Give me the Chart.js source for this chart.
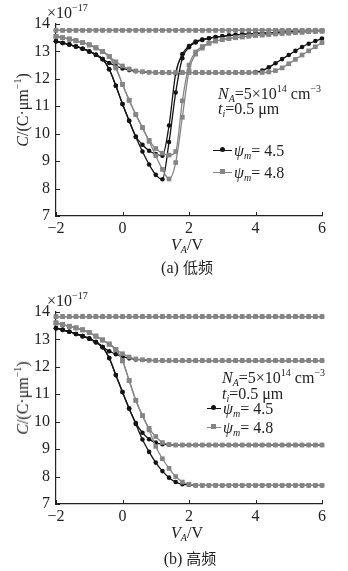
<!DOCTYPE html>
<html>
<head>
<meta charset="utf-8">
<script src="https://cdn.jsdelivr.net/npm/chart.js@4.4.1/dist/chart.umd.min.js"></script>
<style>
  body { margin:0; background:#fff; width:348px; height:571px; position:relative; overflow:hidden;
         font-family:"Liberation Serif", "Times New Roman", serif; color:#222; }
  canvas { position:absolute; left:0; }
  .txt { position:absolute; white-space:nowrap; font-size:16px; line-height:1; }
  .txt sup { font-size:10px; vertical-align:7px; line-height:0; }
  .txt sub { font-size:10px; vertical-align:-3px; line-height:0; }
  .c { transform:translate(-50%,-50%); }
  .rot { transform:translate(-50%,-50%) rotate(-90deg); }
  .cjk { font-family:"Noto Sans CJK SC", sans-serif; font-size:15px; }
  .key { position:absolute; height:0; border-top:1.3px solid; }
  .key span { position:absolute; left:50%; top:-3.6px; margin-left:-2.6px; width:5px; height:5px; }
</style>
</head>
<body>
<canvas id="lowChart" width="348" height="240" style="top:0"></canvas>
<canvas id="highChart" width="348" height="240" style="top:288px"></canvas>

<!-- (a) low frequency labels -->
<div class="txt" style="left:47px;top:5px">×10<sup>−17</sup></div>
<div class="txt rot" style="left:23px;top:110px"><i>C</i>/(C·μm<sup>−1</sup>)</div>
<div class="txt c" style="left:187px;top:245px"><i>V<sub>A</sub></i>/V</div>
<div class="txt c" style="left:187px;top:267px">(a) <span class="cjk">低频</span></div>
<div class="txt" style="left:218px;top:86px"><i>N<sub>A</sub></i>=5×10<sup>14</sup> cm<sup>−3</sup></div>
<div class="txt" style="left:218px;top:101px"><i>t<sub>i</sub></i>=0.5 μm</div>
<div class="key" style="left:213px;top:150px;width:19px;border-color:#141414"><span style="background:#141414;border-radius:50%"></span></div>
<div class="txt" style="left:234px;top:143px"><i>ψ<sub>m</sub></i>= 4.5</div>
<div class="key" style="left:213px;top:172px;width:19px;border-color:#858585"><span style="background:#858585"></span></div>
<div class="txt" style="left:234px;top:165px"><i>ψ<sub>m</sub></i>= 4.8</div>

<!-- (b) high frequency labels -->
<div class="txt" style="left:47px;top:293px">×10<sup>−17</sup></div>
<div class="txt rot" style="left:23px;top:398px"><i>C</i>/(C·μm<sup>−1</sup>)</div>
<div class="txt c" style="left:187px;top:533px"><i>V<sub>A</sub></i>/V</div>
<div class="txt c" style="left:190px;top:558px">(b) <span class="cjk">高频</span></div>
<div class="txt" style="left:222px;top:370px"><i>N<sub>A</sub></i>=5×10<sup>14</sup> cm<sup>−3</sup></div>
<div class="txt" style="left:222px;top:386px"><i>t<sub>i</sub></i>=0.5 μm</div>
<div class="key" style="left:207px;top:408px;width:14px;border-color:#141414"><span style="background:#141414;border-radius:50%"></span></div>
<div class="txt" style="left:223px;top:401px"><i>ψ<sub>m</sub></i>= 4.5</div>
<div class="key" style="left:207px;top:427px;width:14px;border-color:#858585"><span style="background:#858585"></span></div>
<div class="txt" style="left:223px;top:420px"><i>ψ<sub>m</sub></i>= 4.8</div>

<script>
// gate voltage V_A (V), one marker every 0.2 V
const voltage = [-2,-1.8,-1.6,-1.4,-1.2,-1,-0.8,-0.6,-0.4,-0.2,0,0.2,0.4,0.6,0.8,1,1.2,1.4,1.6,1.8,2,
  2.2,2.4,2.6,2.8,3,3.2,3.4,3.6,3.8,4,4.2,4.4,4.6,4.8,5,5.2,5.4,5.6,5.8,6];

// (a) low frequency, C in units of 1e-17
const lowFlat45 = [13.77,13.77,13.77,13.77,13.77,13.77,13.77,13.77,13.77,13.77,13.77,13.77,13.77,13.77,
  13.77,13.77,13.77,13.77,13.77,13.77,13.77,13.77,13.77,13.77,13.77,13.77,13.77,13.77,13.77,13.77,13.77,
  13.77,13.77,13.77,13.77,13.77,13.77,13.77,13.77,13.77,13.77];
const lowShallow45 = [13.37,13.31,13.25,13.18,13.1,13,12.88,12.72,12.58,12.47,12.38,12.32,12.28,12.25,12.24,
  12.23,12.23,12.23,12.23,12.23,12.23,12.23,12.23,12.23,12.23,12.23,12.23,12.23,12.23,12.23,
  12.25,12.3,12.42,12.57,12.72,12.87,13.02,13.16,13.28,13.38,13.47];
const lowMid45 = [13.37,13.31,13.25,13.18,13.1,13,12.88,12.72,12.35,11.75,11.08,10.47,9.9,9.6,9.38,9.26,9.2,
  10.3,12.2,12.9,13.2,13.36,13.43,13.48,13.52,13.55,13.58,13.6,13.62,13.64,13.66,13.67,13.68,13.69,13.7,
  13.71,13.72,13.73,13.74,13.75,13.76];
const lowDeep45 = [13.37,13.31,13.25,13.18,13.1,13,12.88,12.72,12.35,11.75,11.08,10.47,9.88,9.35,8.88,8.5,8.34,
  9.7,11.5,12.75,13.15,13.33,13.42,13.48,13.52,13.55,13.58,13.6,13.62,13.64,13.66,13.67,13.68,13.69,13.7,
  13.71,13.72,13.73,13.74,13.75,13.76];
const lowFlat48 = [13.77,13.77,13.77,13.77,13.77,13.77,13.77,13.77,13.77,13.77,13.77,13.77,13.77,13.77,
  13.77,13.77,13.77,13.77,13.77,13.77,13.77,13.77,13.77,13.77,13.77,13.77,13.77,13.77,13.77,13.77,13.77,
  13.77,13.77,13.77,13.77,13.77,13.77,13.77,13.77,13.77,13.77];
const lowShallow48 = [13.55,13.5,13.45,13.39,13.32,13.24,13.13,13,12.82,12.62,12.47,12.36,12.29,12.26,12.24,
  12.23,12.23,12.23,12.23,12.23,12.23,12.23,12.23,12.23,12.23,12.23,12.23,12.23,12.23,12.23,12.23,12.23,
  12.25,12.3,12.4,12.55,12.71,12.87,13.02,13.17,13.32];
const lowMid48 = [13.55,13.5,13.45,13.39,13.32,13.24,13.13,13,12.82,12.4,11.8,11.22,10.7,10.22,9.76,9.46,9.29,
  9.22,9.35,11.2,12.5,12.98,13.18,13.3,13.38,13.43,13.47,13.5,13.53,13.56,13.58,13.6,13.62,13.64,13.66,
  13.67,13.69,13.7,13.72,13.73,13.74];
const lowDeep48 = [13.55,13.5,13.45,13.39,13.32,13.24,13.13,13,12.82,12.4,11.8,11.22,10.7,10.22,9.72,9.2,8.7,
  8.35,8.95,10.6,12.3,12.9,13.12,13.3,13.38,13.43,13.47,13.5,13.53,13.56,13.58,13.6,13.62,13.64,13.66,
  13.67,13.69,13.7,13.72,13.73,13.74];

// (b) high frequency
const highFlat45 = [13.83,13.83,13.83,13.83,13.83,13.83,13.83,13.83,13.83,13.83,13.83,13.83,13.83,13.83,
  13.83,13.83,13.83,13.83,13.83,13.83,13.83,13.83,13.83,13.83,13.83,13.83,13.83,13.83,13.83,13.83,13.83,
  13.83,13.83,13.83,13.83,13.83,13.83,13.83,13.83,13.83,13.83];
const highShallow45 = [13.41,13.35,13.28,13.2,13.12,13.03,12.9,12.72,12.57,12.46,12.37,12.31,12.27,12.25,12.24,
  12.23,12.23,12.23,12.23,12.23,12.23,12.23,12.23,12.23,12.23,12.23,12.23,12.23,12.23,12.23,12.23,12.23,
  12.23,12.23,12.23,12.23,12.23,12.23,12.23,12.23,12.23];
const highMid45 = [13.41,13.35,13.28,13.2,13.12,13.03,12.9,12.72,12.32,11.7,11.08,10.48,9.95,9.6,9.36,9.24,9.18,
  9.16,9.15,9.15,9.15,9.15,9.15,9.15,9.15,9.15,9.15,9.15,9.15,9.15,9.15,9.15,9.15,9.15,9.15,9.15,9.15,
  9.15,9.15,9.15,9.15];
const highDeep45 = [13.41,13.35,13.28,13.2,13.12,13.03,12.9,12.72,12.32,11.7,11.08,10.48,9.92,9.35,8.9,8.51,8.2,
  7.96,7.8,7.72,7.7,7.68,7.68,7.68,7.68,7.68,7.68,7.68,7.68,7.68,7.68,7.68,7.68,7.68,7.68,7.68,7.68,
  7.68,7.68,7.68,7.68];
const highFlat48 = [13.83,13.83,13.83,13.83,13.83,13.83,13.83,13.83,13.83,13.83,13.83,13.83,13.83,13.83,
  13.83,13.83,13.83,13.83,13.83,13.83,13.83,13.83,13.83,13.83,13.83,13.83,13.83,13.83,13.83,13.83,13.83,
  13.83,13.83,13.83,13.83,13.83,13.83,13.83,13.83,13.83,13.83];
const highShallow48 = [13.6,13.54,13.48,13.42,13.35,13.25,13.12,12.98,12.83,12.63,12.48,12.36,12.29,12.26,12.24,
  12.23,12.23,12.23,12.23,12.23,12.23,12.23,12.23,12.23,12.23,12.23,12.23,12.23,12.23,12.23,12.23,12.23,
  12.23,12.23,12.23,12.23,12.23,12.23,12.23,12.23,12.23];
const highMid48 = [13.6,13.54,13.48,13.42,13.35,13.25,13.12,12.98,12.83,12.63,12.22,11.5,10.78,10.22,9.76,9.46,
  9.24,9.17,9.15,9.15,9.15,9.15,9.15,9.15,9.15,9.15,9.15,9.15,9.15,9.15,9.15,9.15,9.15,9.15,9.15,9.15,
  9.15,9.15,9.15,9.15,9.15];
const highDeep48 = [13.6,13.54,13.48,13.42,13.35,13.25,13.12,12.98,12.83,12.63,12.22,11.5,10.78,10.22,9.7,9.1,
  8.65,8.3,8,7.8,7.72,7.68,7.68,7.68,7.68,7.68,7.68,7.68,7.68,7.68,7.68,7.68,7.68,7.68,7.68,7.68,7.68,
  7.68,7.68,7.68,7.68];

const xTicks = [-2, 0, 2, 4, 6];
const yTicks = [7, 8, 9, 10, 11, 12, 13, 14];

const BLACK = "#141414";
const GRAY = "#858585";
const SERIF = "'Liberation Serif', 'Times New Roman', serif";

// 🔹 one dataset per curve
function curve(values, color, isGray) {
  return {
    data: voltage.map((v, i) => ({ x: v, y: values[i] })),
    showLine: true,
    borderColor: color,
    backgroundColor: color,
    borderWidth: 1.3,
    pointStyle: isGray ? "rect" : "circle",
    pointRadius: isGray ? 3.3 : 2.3,
    pointBorderWidth: 0,
    cubicInterpolationMode: "monotone",
    clip: false
  };
}

// 🔹 ticks drawn inward like the original figure
const innerTicks = {
  id: "innerTicks",
  afterDatasetsDraw(chart) {
    const { ctx, chartArea, scales: { x, y } } = chart;
    ctx.save();
    ctx.strokeStyle = "#222";
    ctx.lineWidth = 1;
    xTicks.forEach(t => {
      const px = Math.round(x.getPixelForValue(t)) + 0.5;
      ctx.beginPath();
      ctx.moveTo(px, chartArea.bottom);
      ctx.lineTo(px, chartArea.bottom - 4);
      ctx.stroke();
    });
    yTicks.forEach(t => {
      const py = Math.round(y.getPixelForValue(t)) + 0.5;
      ctx.beginPath();
      ctx.moveTo(chartArea.left, py);
      ctx.lineTo(chartArea.left + 4, py);
      ctx.stroke();
    });
    ctx.restore();
  }
};

function makeChart(id, gray, black) {
  return new Chart(document.getElementById(id), {
    type: "scatter",
    data: {
      datasets: [
        ...gray.map(s => curve(s, GRAY, true)),
        ...black.map(s => curve(s, BLACK, false))
      ]
    },
    options: {
      responsive: false,
      animation: false,
      layout: { padding: { top: 24, right: 26, left: 0, bottom: 0 } },
      plugins: { legend: { display: false }, tooltip: { enabled: false } },
      scales: {
        x: {
          type: "linear", min: -2, max: 6,
          afterBuildTicks: s => { s.ticks = xTicks.map(v => ({ value: v })); },
          afterFit: s => { s.height = 24; },
          grid: { display: false, drawTicks: false },
          border: { color: "#222", width: 1.2 },
          ticks: {
            color: "#222", padding: 3, maxRotation: 0,
            font: { family: SERIF, size: 16 },
            callback: v => String(v).replace("-", "−")
          }
        },
        y: {
          type: "linear", min: 7, max: 14,
          afterBuildTicks: s => { s.ticks = yTicks.map(v => ({ value: v })); },
          afterFit: s => { s.width = 56; },
          grid: { display: false, drawTicks: false },
          border: { color: "#222", width: 1.2 },
          ticks: { color: "#222", padding: 6, font: { family: SERIF, size: 16 } }
        }
      }
    },
    plugins: [innerTicks]
  });
}

makeChart("lowChart",
  [lowFlat48, lowShallow48, lowMid48, lowDeep48],
  [lowFlat45, lowShallow45, lowMid45, lowDeep45]);
makeChart("highChart",
  [highFlat48, highShallow48, highMid48, highDeep48],
  [highFlat45, highShallow45, highMid45, highDeep45]);
</script>
</body>
</html>
